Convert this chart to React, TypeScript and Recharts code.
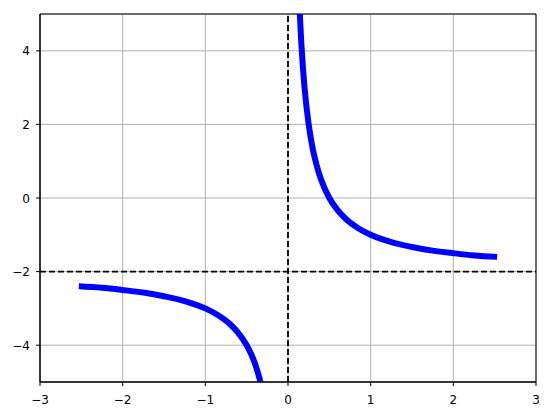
import React from 'react';
import {
  CartesianGrid,
  Line,
  LineChart,
  ReferenceArea,
  ReferenceLine,
  XAxis,
  YAxis,
} from 'recharts';

// values, left branch (x < 0)
const leftX = [-2.53, -2.25, -2, -1.75, -1.5, -1.25, -1, -0.85, -0.7, -0.6, -0.5, -0.45, -0.4, -0.36, -0.33, -0.31];
const leftY = [-2.4, -2.44, -2.5, -2.57, -2.67, -2.8, -3.0, -3.18, -3.43, -3.67, -4.0, -4.22, -4.5, -4.78, -5.03, -5.23];

// right branch (x > 0)
const rightX = [0.13, 0.14, 0.16, 0.18, 0.2, 0.25, 0.3, 0.35, 0.4, 0.5, 0.6, 0.7, 0.85, 1, 1.25, 1.5, 1.75, 2, 2.25, 2.53];
const rightY = [5.69, 5.14, 4.25, 3.56, 3.0, 2.0, 1.33, 0.86, 0.5, 0.0, -0.33, -0.57, -0.82, -1.0, -1.2, -1.33, -1.43, -1.5, -1.56, -1.6];

const xTicks = [-3, -2, -1, 0, 1, 2, 3];
const yTicks = [-4, -2, 0, 2, 4];

const leftData = leftX.map((x, i) => ({ x, y: leftY[i] }));
const rightData = rightX.map((x, i) => ({ x, y: rightY[i] }));

const fmt = (v: number) => String(v).replace('-', '\u2212');

const XTick = ({ x, y, payload }: any) => (
  <text
    x={x}
    y={y + 18}
    textAnchor="middle"
    fontSize={12}
    fontFamily="DejaVu Sans"
    fill="#000"
  >
    {fmt(payload.value)}
  </text>
);

const YTick = ({ x, y, payload }: any) => (
  <text
    x={x - 6}
    y={y + 4.5}
    textAnchor="end"
    fontSize={12}
    fontFamily="DejaVu Sans"
    fill="#000"
  >
    {fmt(payload.value)}
  </text>
);

export default function App() {
  return (
    <div style={{ position: 'absolute', left: 0, top: 0, background: '#fff' }}>
      <LineChart
        width={550}
        height={416}
        margin={{ top: 14, right: 14, bottom: 0, left: 0 }}
      >
        <CartesianGrid stroke="#b0b0b0" strokeWidth={1} />
        <XAxis
          type="number"
          dataKey="x"
          domain={[-3, 3]}
          ticks={xTicks}
          allowDataOverflow
          height={34}
          tickSize={4}
          tickMargin={0}
          tick={<XTick />}
          stroke="#000"
          axisLine={{ stroke: '#000', strokeWidth: 1 }}
          tickLine={{ stroke: '#000' }}
        />
        <YAxis
          type="number"
          domain={[-5, 5]}
          ticks={yTicks}
          allowDataOverflow
          width={40}
          tickSize={4}
          tickMargin={0}
          tick={<YTick />}
          stroke="#000"
          axisLine={{ stroke: '#000', strokeWidth: 1 }}
          tickLine={{ stroke: '#000' }}
        />
        <Line
          data={leftData}
          dataKey="y"
          type="monotone"
          stroke="#0000ff"
          strokeWidth={6}
          dot={false}
          isAnimationActive={false}
        />
        <Line
          data={rightData}
          dataKey="y"
          type="monotone"
          stroke="#0000ff"
          strokeWidth={6}
          dot={false}
          isAnimationActive={false}
        />
        <ReferenceLine x={0} stroke="#000" strokeWidth={1.8} strokeDasharray="6 3" />
        <ReferenceLine y={-2} stroke="#000" strokeWidth={1.8} strokeDasharray="6 3" />
        <ReferenceArea
          x1={-3}
          x2={3}
          y1={-5}
          y2={5}
          fill="none"
          fillOpacity={0}
          stroke="#000"
          strokeWidth={1}
          ifOverflow="visible"
        />
      </LineChart>
    </div>
  );
}
